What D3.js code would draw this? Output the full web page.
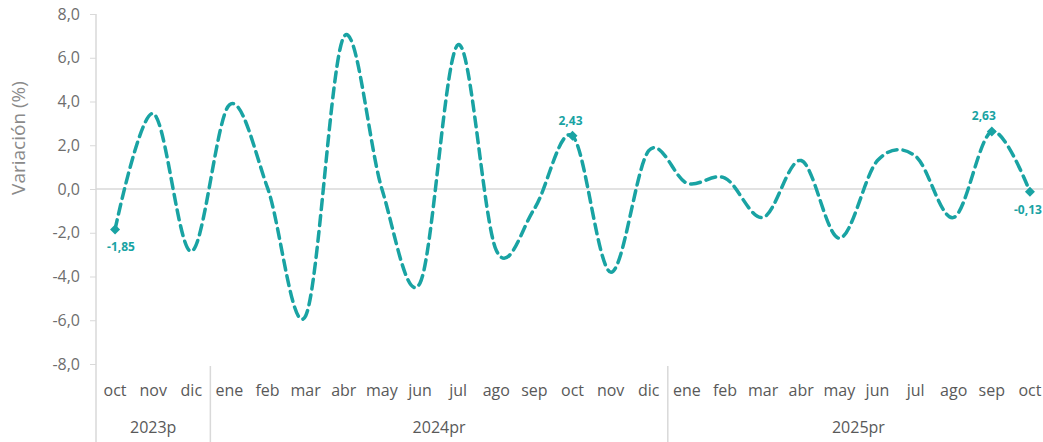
<!DOCTYPE html>
<html>
<head>
<meta charset="utf-8">
<script src="https://cdn.jsdelivr.net/npm/d3@7"></script>
<style>
  html, body { margin: 0; padding: 0; background: #fff; }
  svg { display: block; }
  text { font-family: "Open Sans", sans-serif; }
</style>
</head>
<body>
<svg id="chart" width="1043" height="442"></svg>
<script>
// ---- data ----
const months = ["oct","nov","dic","ene","feb","mar","abr","may","jun","jul","ago","sep","oct","nov","dic",
                "ene","feb","mar","abr","may","jun","jul","ago","sep","oct"];
const years = ["2023p","2024pr","2025pr"];
const yearCounts = [3, 12, 10];
const values = [-1.85, 3.45, -2.85, 3.85, 0.05, -5.8, 6.95, 0.0, -4.3, 6.6, -2.8, -0.9, 2.43, -3.8, 1.75,
                0.27, 0.5, -1.3, 1.3, -2.25, 1.3, 1.5, -1.3, 2.63, -0.13];
const labelled = [0, 12, 23, 24];
const yTicks = [-8, -6, -4, -2, 0, 2, 4, 6, 8];

// ---- drawing ----
const svg = d3.select("#chart");
const teal = "#19a3a3";
const grey = "#d9d9d9";
const textCol = "#595959";

const plotTop = 14, plotBottom = 364, left = 96, right = 1049;
const x = d3.scaleBand().domain(d3.range(months.length)).range([left, right]);
const cx = i => x(i) + x.bandwidth() / 2;
const y = d3.scaleLinear().domain([-8, 8]).range([plotBottom, plotTop]);

const loc = d3.formatLocale({decimal: ",", thousands: ".", grouping: [3], currency: ["", ""], minus: "-"});
const f1 = loc.format(".1f");
const f2 = loc.format(".2f");

// zero line
svg.append("line")
  .attr("x1", left).attr("x2", 1043)
  .attr("y1", y(0)).attr("y2", y(0))
  .attr("stroke", grey).attr("stroke-width", 1.5);

// y axis
const yAxis = svg.append("g")
  .attr("transform", `translate(${left},0)`)
  .call(d3.axisLeft(y).tickValues(yTicks).tickFormat(f1).tickSize(6).tickSizeOuter(0).tickPadding(10));
yAxis.select(".domain").remove();
yAxis.selectAll(".tick line").attr("stroke", grey).attr("stroke-width", 1);
yAxis.selectAll(".tick text")
  .attr("fill", "#6e6e6e").style("font-size", "16px").style("font-family", "'Open Sans', sans-serif");

// vertical axis line extending into category area
svg.append("line")
  .attr("x1", left).attr("x2", left)
  .attr("y1", plotTop).attr("y2", 442)
  .attr("stroke", grey).attr("stroke-width", 1.5);

// y title
svg.append("text")
  .attr("transform", `translate(25,138) rotate(-90)`)
  .attr("text-anchor", "middle")
  .attr("fill", "#8a8a8a")
  .style("font-size", "19px")
  .text("Variación (%)");

// month labels
svg.append("g").selectAll("text")
  .data(months)
  .join("text")
  .attr("x", (d, i) => cx(i))
  .attr("y", 396)
  .attr("text-anchor", "middle")
  .attr("fill", textCol)
  .style("font-size", "16px")
  .text(d => d);

// year groups
let start = 0;
years.forEach((yr, k) => {
  const a = x(start), b = x(start + yearCounts[k] - 1) + x.bandwidth();
  svg.append("text")
    .attr("x", (a + b) / 2).attr("y", 433)
    .attr("text-anchor", "middle")
    .attr("fill", textCol)
    .style("font-size", "16px")
    .text(yr);
  if (k > 0) {
    svg.append("line")
      .attr("x1", a).attr("x2", a)
      .attr("y1", plotBottom + 2).attr("y2", 442)
      .attr("stroke", grey).attr("stroke-width", 1.5);
  }
  start += yearCounts[k];
});

// line
const line = d3.line()
  .x((d, i) => cx(i))
  .y(d => y(d))
  .curve(d3.curveCardinal.tension(0));

svg.append("path")
  .datum(values)
  .attr("d", line)
  .attr("fill", "none")
  .attr("stroke", teal)
  .attr("stroke-width", 3.5)
  .attr("stroke-dasharray", "10 6")
  .attr("stroke-linecap", "round");

// markers + labels
const sym = d3.symbol().type(d3.symbolSquare).size(50);
const pts = svg.append("g");
labelled.forEach(i => {
  const px = cx(i), py = y(values[i]);
  pts.append("path")
    .attr("d", sym)
    .attr("transform", `translate(${px},${py}) rotate(45)`)
    .attr("fill", teal);
  const above = values[i] > 0;
  pts.append("text")
    .attr("x", px + (i === 0 ? 6 : i === 23 ? -8 : -2))
    .attr("y", above ? py - 11 : py + 22)
    .attr("text-anchor", "middle")
    .attr("fill", teal)
    .style("font-size", "12px")
    .style("font-weight", "bold")
    .text(f2(values[i]));
});
</script>
</body>
</html>
